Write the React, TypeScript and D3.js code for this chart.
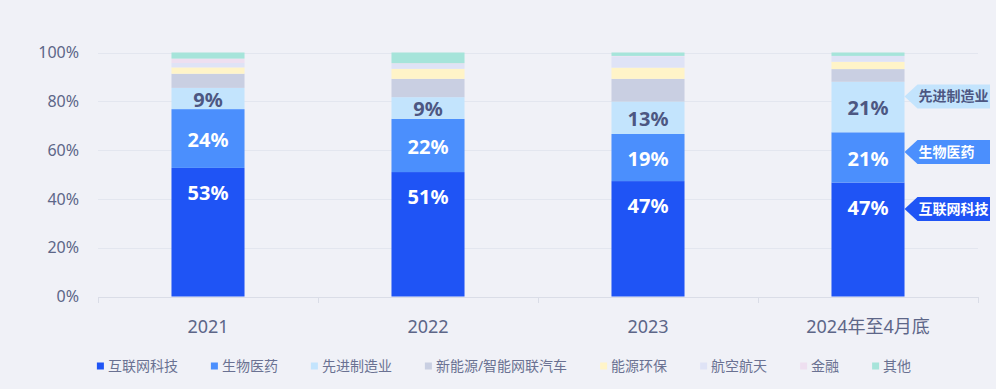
import React, { useRef, useEffect } from "react";
import * as d3 from "d3";

const years = ["2021", "2022", "2023", "2024年至4月底"];
const seriesNames = [
  "互联网科技",
  "生物医药",
  "先进制造业",
  "新能源/智能网联汽车",
  "能源环保",
  "航空航天",
  "金融",
  "其他",
];
const seriesColors = [
  "#1f54f5",
  "#4b8ffd",
  "#c3e4fd",
  "#c9cfe2",
  "#fff4c8",
  "#dfe3f6",
  "#eedff0",
  "#a6e4da",
];
// share (%) per year, one array per series
const internet = [52.7, 51.0, 47.3, 46.7];
const biomed = [24.1, 21.8, 19.3, 20.6];
const manufacturing = [8.7, 8.9, 13.3, 20.7];
const newEnergy = [5.8, 7.5, 9.3, 5.2];
const environment = [2.6, 4.1, 4.6, 3.0];
const aerospace = [1.8, 2.0, 4.6, 2.4];
const finance = [1.8, 0.3, 0.2, 0];
const others = [2.5, 4.4, 1.4, 1.4];
const yTicks = [0, 20, 40, 60, 80, 100];

// callouts next to the last bar: series index and anchor value (%)
const calloutSeries = [2, 1, 0];
const calloutAt = [82.0, 59.2, 35.9];

const W = 996;
const H = 389;
const FONT = "'Noto Sans', 'Noto Sans CJK SC', sans-serif";

const App: React.FC = () => {
  const svgRef = useRef<SVGSVGElement | null>(null);

  useEffect(() => {
    document.body.style.margin = "0";
    if (!svgRef.current) return;
    const svg = d3.select(svgRef.current);
    svg.selectAll("*").remove();

    const values = [internet, biomed, manufacturing, newEnergy, environment, aerospace, finance, others];
    const rows = years.map((y, i) => {
      const r: any = { year: y };
      seriesNames.forEach((s, j) => (r[s] = values[j][i]));
      return r;
    });
    const stacked = d3.stack<any>().keys(seriesNames)(rows);

    const x = d3
      .scaleBand()
      .domain(years)
      .range([98, 978])
      .paddingInner(0.668)
      .paddingOuter(0.334);
    const y = d3.scaleLinear().domain([0, 100]).range([296.5, 52.5]);

    svg.append("rect").attr("width", W).attr("height", H).attr("fill", "#f0f1f7");

    // grid + y labels
    svg
      .selectAll(".grid")
      .data(yTicks)
      .enter()
      .append("line")
      .attr("x1", 98)
      .attr("x2", 978)
      .attr("y1", (d) => Math.round(y(d)) + 0.5)
      .attr("y2", (d) => Math.round(y(d)) + 0.5)
      .attr("stroke", (d) => (d === 0 ? "#dadde7" : "#e3e6ef"))
      .attr("stroke-width", 1);

    svg
      .selectAll(".ylab")
      .data(yTicks)
      .enter()
      .append("text")
      .attr("x", 79)
      .attr("y", (d) => y(d))
      .attr("dy", "0.36em")
      .attr("text-anchor", "end")
      .attr("font-family", FONT)
      .attr("font-size", 16)
      .attr("fill", "#5d6688")
      .text((d) => `${d}%`);

    // x ticks at band boundaries
    const step = x.step();
    const bounds = d3.range(years.length + 1).map((i) => 98 + i * step);
    svg
      .selectAll(".xtick")
      .data(bounds)
      .enter()
      .append("line")
      .attr("x1", (d) => Math.round(d) + 0.5)
      .attr("x2", (d) => Math.round(d) + 0.5)
      .attr("y1", 297)
      .attr("y2", 303)
      .attr("stroke", "#dadde7");

    svg
      .selectAll(".xlab")
      .data(years)
      .enter()
      .append("text")
      .attr("x", (d) => x(d)! + x.bandwidth() / 2)
      .attr("y", 333)
      .attr("text-anchor", "middle")
      .attr("font-family", FONT)
      .attr("font-size", 18)
      .attr("fill", "#5d6688")
      .text((d) => d);

    // bars
    const layers = svg
      .selectAll(".layer")
      .data(stacked)
      .enter()
      .append("g")
      .attr("fill", (_, i) => seriesColors[i]);
    layers
      .selectAll("rect")
      .data((d) => d)
      .enter()
      .append("rect")
      .attr("x", (d) => x(d.data.year)!)
      .attr("width", x.bandwidth())
      .attr("y", (d) => y(d[1]))
      .attr("height", (d) => y(d[0]) - y(d[1]));

    // value labels for the three main series
    stacked.slice(0, 3).forEach((layer, li) => {
      svg
        .selectAll(`.vl${li}`)
        .data(layer)
        .enter()
        .append("text")
        .attr("x", (d) => x(d.data.year)! + x.bandwidth() / 2)
        .attr("y", (d) => (li === 0 ? y(d[1]) + 25 : (y(d[0]) + y(d[1])) / 2 + 1))
        .attr("dy", "0.36em")
        .attr("text-anchor", "middle")
        .attr("font-family", FONT)
        .attr("font-size", 20)
        .attr("font-weight", 700)
        .attr("fill", li === 2 ? "#4d5782" : "#ffffff")
        .text((d) => `${Math.round(d[1] - d[0])}%`);
    });

    // callouts
    const lastYear = years[years.length - 1];
    const tipX = x(lastYear)! + x.bandwidth();
    calloutSeries.forEach((si, k) => {
      const cy = y(calloutAt[k]);
      const h = 24;
      const g = svg.append("g");
      g.append("path")
        .attr(
          "d",
          `M${tipX},${cy} L${tipX + 13},${cy - h / 2} L990,${cy - h / 2} L990,${cy + h / 2} L${tipX + 13},${cy + h / 2} Z`
        )
        .attr("fill", seriesColors[si]);
      g.append("text")
        .attr("x", tipX + 14)
        .attr("y", cy)
        .attr("dy", "0.36em")
        .attr("font-family", FONT)
        .attr("font-size", 14)
        .attr("font-weight", 700)
        .attr("fill", si === 2 ? "#4d5782" : "#ffffff")
        .text(seriesNames[si]);
    });

    // legend
    const legend = svg.append("g");
    const items = seriesNames.map((name, i) => {
      const g = legend.append("g");
      g.append("rect")
        .attr("width", 7)
        .attr("height", 7)
        .attr("y", -3.5)
        .attr("fill", seriesColors[i]);
      const t = g
        .append("text")
        .attr("x", 11)
        .attr("dy", "0.36em")
        .attr("font-family", FONT)
        .attr("font-size", 14)
        .attr("fill", "#6a7192")
        .text(name);
      const tw = (t.node() as SVGTextElement).getComputedTextLength();
      return { g, w: 11 + tw };
    });
    const gap = 33;
    const total = d3.sum(items, (d) => d.w) + gap * (items.length - 1);
    let cx = 504 - total / 2;
    items.forEach((it) => {
      it.g.attr("transform", `translate(${cx},366)`);
      cx += it.w + gap;
    });
  }, []);

  return <svg ref={svgRef} width={W} height={H} style={{ display: "block" }}></svg>;
};

export default App;
